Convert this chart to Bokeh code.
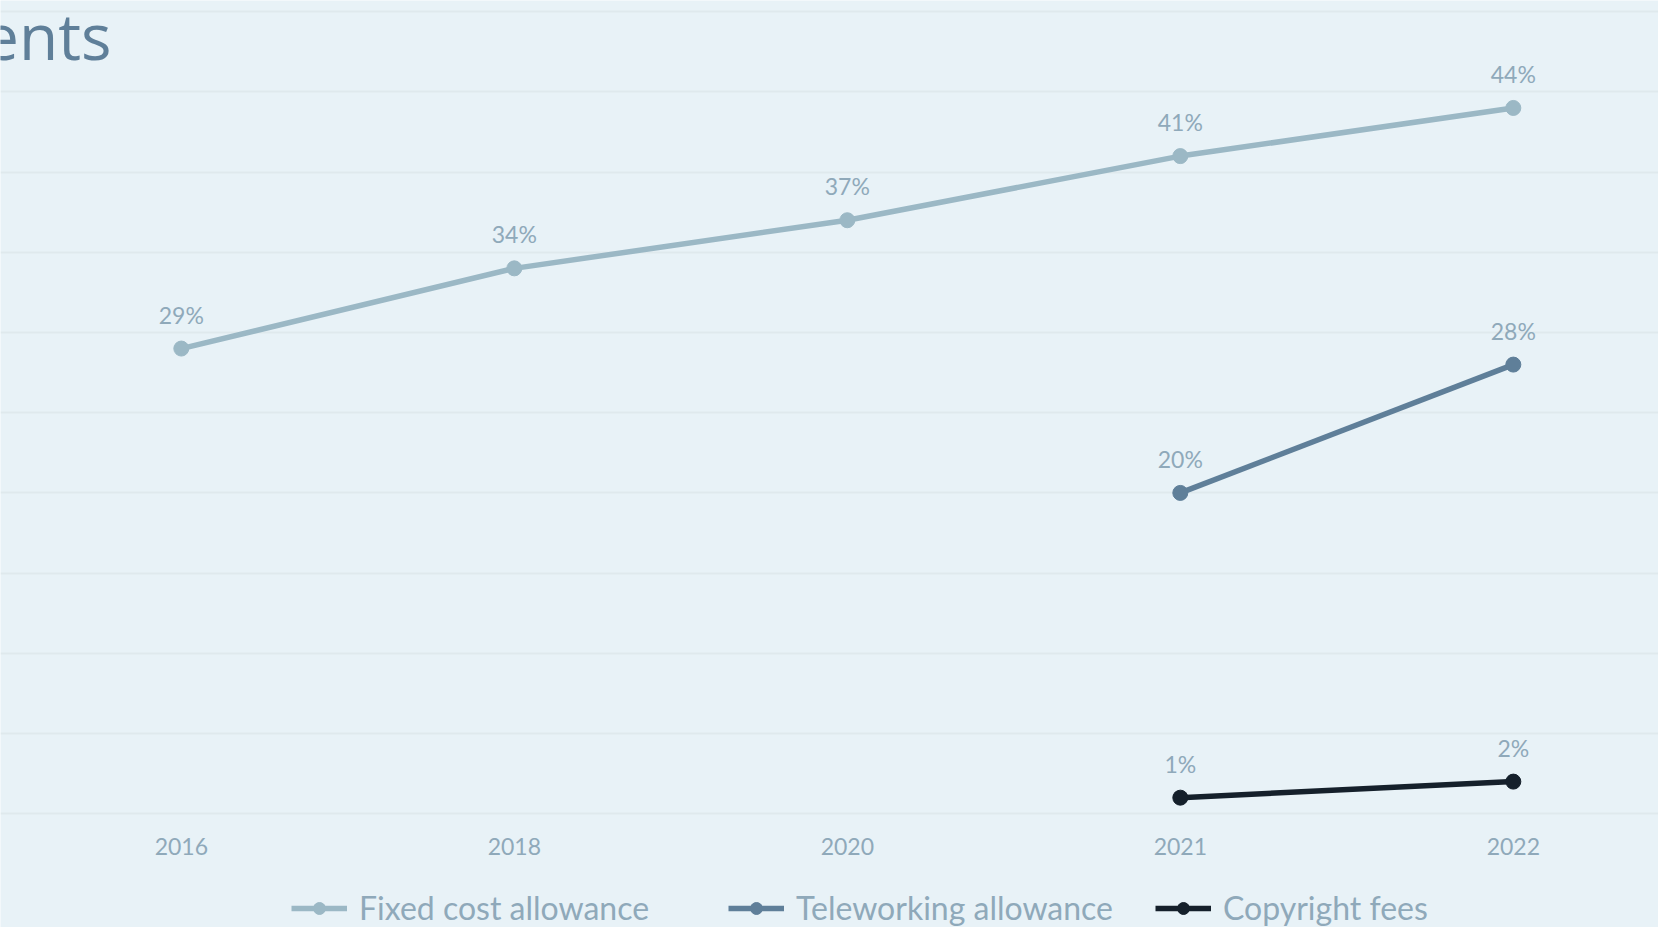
from bokeh.plotting import figure
from bokeh.models import (ColumnDataSource, FixedTicker, Legend, LegendItem,
                          LabelSet, Label, Range1d)
from bokeh.core.properties import value
from bokeh.embed import file_html
from bokeh.resources import INLINE

# ---- data ----
years = ["2016", "2018", "2020", "2021", "2022"]
fixed_cost = [29, 34, 37, 41, 44]
tele_years = ["2021", "2022"]
teleworking = [20, 28]
copy_years = ["2021", "2022"]
copyright_fees = [1, 2]
series_names = ["Fixed cost allowance", "Teleworking allowance", "Copyright fees"]
title_text = "ents"

# ---- style ----
BG = "#e8f2f7"
GRID = "#dfe9ed"
TXT = "#8fa9ba"
COLORS = ["#9bb8c5", "#5f7f99", "#15202b"]
FONT = "Lato"
LEGEND_X = [291, 728, 1155]   # screen offsets of each legend entry from frame left

idx = {y: i for i, y in enumerate(years)}

p = figure(width=1658, height=927, output_backend="svg", toolbar_location=None,
           x_range=Range1d(-0.543, 4.436), y_range=Range1d(-7.095, 50.70),
           min_border_left=0, min_border_right=0, min_border_top=0,
           min_border_bottom=0)
p.background_fill_color = BG
p.border_fill_color = BG
p.outline_line_color = None

p.yaxis.visible = False
p.xgrid.visible = False
p.ygrid.ticker = FixedTicker(ticks=list(range(0, 55, 5)))
p.ygrid.grid_line_color = GRID
p.ygrid.grid_line_width = 2

p.xaxis.fixed_location = -0.424
p.xaxis.ticker = FixedTicker(ticks=list(range(len(years))))
p.xaxis.major_label_overrides = {i: y for i, y in enumerate(years)}
p.xaxis.axis_line_color = None
p.xaxis.major_tick_line_color = None
p.xaxis.minor_tick_line_color = None
p.xaxis.major_label_text_font = FONT
p.xaxis.major_label_text_font_size = "23px"
p.xaxis.major_label_text_color = TXT
p.xaxis.major_label_standoff = 11

all_series = [
    ([idx[y] for y in years], fixed_cost),
    ([idx[y] for y in tele_years], teleworking),
    ([idx[y] for y in copy_years], copyright_fees),
]

for (xs, vals), name, col, lx in zip(all_series, series_names, COLORS, LEGEND_X):
    src = ColumnDataSource(dict(x=xs, y=vals, lbl=[f"{v}%" for v in vals]))
    r1 = p.line("x", "y", source=src, line_color=col, line_width=5.5)
    r2 = p.scatter("x", "y", source=src, size=15, fill_color=col, line_color=col)
    labels = LabelSet(x="x", y="y", text="lbl", source=src, y_offset=25,
                      text_align="center", text_baseline="alphabetic",
                      text_font=value(FONT), text_font_size=value("23px"),
                      text_color=TXT)
    p.add_layout(labels)
    leg = Legend(items=[LegendItem(label=name, renderers=[r1, r2])],
                 orientation="horizontal", location=(lx, 0),
                 glyph_width=56, glyph_height=30, label_standoff=12,
                 padding=0, margin=0, border_line_color=None,
                 background_fill_alpha=0, label_text_font=FONT,
                 label_text_font_size="32px", label_text_color=TXT)
    p.add_layout(leg, "center")

title = Label(x=-0.2096, y=48.52, text=title_text, text_align="right",
              text_baseline="alphabetic", text_font="Open Sans",
              text_font_size="64px", text_color="#5f7f99")
p.add_layout(title)

open("out.html", "w").write(file_html(p, INLINE))
